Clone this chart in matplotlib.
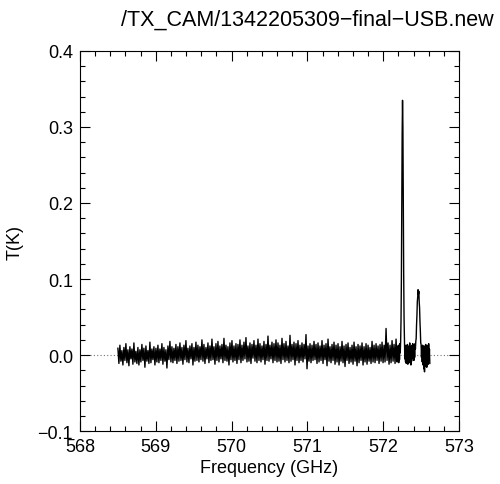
import numpy as np
import matplotlib
matplotlib.use('Agg')
import matplotlib.pyplot as plt
from matplotlib.ticker import MultipleLocator

plt.rcParams['font.family'] = ['Liberation Sans', 'DejaVu Sans']

# Baseline channels (mK), one per ~0.0132 GHz, starting at 568.50 GHz
base_start = 568.50
base_step = 0.0132
base_mk = [
    9, -11, 13, -8, 6, -13, 10, -7, 15, -10, 7, -14, 11, -5, 8, -12, 16, -9, 5, -11,
    10, -13, 7, -9, 14, -7, 9, -16, 12, -8, 6, -11, 17, -10, 8, -6, 11, -13, 9, -9,
    13, -10, 8, -7, 15, -12, 10, -8, 7, -17, 12, -6, 18, -9, 11, -10, 9, -7, 14, -11,
    11, -8, 16, -7, 10, -12, 13, -6, 19, -9, 9, -10, 12, -5, 15, -13, 10, -8, 17, -7,
    13, -9, 11, -6, 20, -8, 14, -11, 10, -5, 16, -10, 12, -7, 21, -6, 11, -12, 15, -7,
    18, -9, 12, -5, 14, -10, 22, -7, 13, -8, 11, -13, 16, -6, 19, -9, 12, -7, 15, -11,
    14, -6, 20, -10, 13, -7, 17, -5, 23, -9, 12, -8, 16, -11, 14, -4, 19, -8, 13, -10,
    21, -7, 15, -9, 12, -6, 18, -12, 14, -7, 25, -8, 13, -5, 17, -10, 15, -7, 20, -9,
    16, -8, 13, -11, 22, -6, 15, -9, 18, -7, 12, -10, 26, -8, 14, -6, 17, -13, 15, -7,
    19, -10, 13, -7, 16, -9, 14, -5, 27, -18, 12, -8, 15, -10, 13, -7, 18, -6, 14, -11,
    16, -9, 12, -7, 19, -11, 13, -6, 15, -14, 21, -8, 11, -10, 14, -7, 17, -12, 13, -9,
    15, -13, 11, -8, 18, -10, 12, -15, 14, -7, 16, -11, 10, -9, 13, -12, 17, -8, 11, -14,
    14, -10, 12, -7, 16, -13, 11, -9, 15, -12, 13, -8, 10, -11, 18, -9, 13, -10, 15, -7,
    12, -11, 14, -8, 17, -10, 13, -9, 35, -7, 16, -12, 13, -10, 19, -8, 14, -11, 21, -9,
]

# Line region channels (mK), step 0.005 GHz, starting at 572.185 GHz
line_start = 572.185
line_step = 0.005
line_mk = [
    -9, 11, -7, 13, -10, 9, -6, 15, 3, 18,
    45, 100, 190, 290, 335, 300, 200, 110, 50, 18,
    -5, 11, -9, 13, -11, 10, -8, 14, -12, 9,
    -7, 12, -10, 16, -6, 11, -13, 10, -8, 13,
    -4, 15, -5, 13, -7, 11, -3, 15, 8, 18,
    22, 40, 52, 70, 76, 86, 80, 84, 70, 62,
    44, 32, 16, 14, -3, 11, -9, 13, -13, 10,
    -18, 12, -22, 9, -15, 14, -10, 11, -16, 13,
    -9, 10, -12, 15, -7, 8, -11,
]

base_freq = base_start + base_step * np.arange(len(base_mk))
line_freq = line_start + line_step * np.arange(len(line_mk))
freq = np.concatenate([base_freq, line_freq])
temp = np.array(base_mk + line_mk) / 1000.0

fig = plt.figure(figsize=(5.0, 4.85), dpi=100)
ax = fig.add_axes([0.16, 0.109, 0.758, 0.784])

ax.axhline(0.0, color='0.45', lw=0.8, ls=(0, (1, 2)), zorder=1)
ax.plot(freq, temp, color='black', lw=1.0, zorder=2)

ax.set_xlim(568, 573)
ax.set_ylim(-0.1, 0.4)
ax.xaxis.set_major_locator(MultipleLocator(1))
ax.xaxis.set_minor_locator(MultipleLocator(0.2))
ax.yaxis.set_major_locator(MultipleLocator(0.1))
ax.yaxis.set_minor_locator(MultipleLocator(0.02))
ax.yaxis.set_major_formatter(plt.FuncFormatter(lambda v, p: f'{v:.1f}'.replace('-', '\u2212')))
ax.tick_params(which='both', direction='in', top=True, right=True, labelsize=13, pad=5)
ax.tick_params(which='major', length=7, width=0.8)
ax.tick_params(which='minor', length=3.5, width=0.8)
for s in ax.spines.values():
    s.set_linewidth(0.8)

ax.set_xlabel('Frequency (GHz)', fontsize=13, labelpad=3)
ax.set_ylabel('T(K)', fontsize=13, labelpad=10)

fig.text(307 / 500, 1 - 20 / 485, '/TX_CAM/1342205309\u2212final\u2212USB.new',
         ha='center', va='center', fontsize=15.5)

fig.savefig('out.png', dpi=100)
